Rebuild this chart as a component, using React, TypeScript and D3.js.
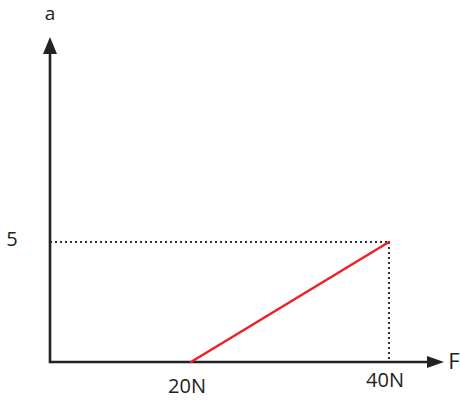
import React from "react";
import * as d3 from "d3";

// Acceleration a versus applied force F: zero until F = 20 N, then rising to a = 5 at F = 40 N
const forceValues: number[] = [20, 40];
const accelValues: number[] = [0, 5];
const xTickValues: number[] = [20, 40];
const xTickLabels: string[] = ["20N", "40N"];
const yTickValues: number[] = [5];
const yTickLabels: string[] = ["5"];

const W = 460;
const H = 400;
const originX = 50;
const originY = 362;
const xEnd = 444;
const yEnd = 37;

const x = d3.scaleLinear().domain([20, 40]).range([191, 389]);
const y = d3.scaleLinear().domain([0, 5]).range([originY, 242]);

const FONT = "'Open Sans', 'DejaVu Sans', sans-serif";

export default function App() {
  const points: [number, number][] = forceValues.map((f, i) => [f, accelValues[i]]);
  const line = d3
    .line<[number, number]>()
    .x((d) => x(d[0]))
    .y((d) => y(d[1]));

  const last = points[points.length - 1];

  return (
    <svg
      width={W}
      height={H}
      style={{ position: "absolute", left: 0, top: 0, background: "#fff" }}
    >
      {/* dotted guides to the end point */}
      <line
        x1={originX}
        x2={x(last[0])}
        y1={y(last[1])}
        y2={y(last[1])}
        stroke="#333"
        strokeWidth={2}
        strokeDasharray="2,3"
      />
      <line
        x1={x(last[0])}
        x2={x(last[0])}
        y1={y(last[1])}
        y2={originY}
        stroke="#333"
        strokeWidth={2}
        strokeDasharray="2,3"
      />

      {/* axes */}
      <line x1={originX} x2={xEnd - 14} y1={originY} y2={originY} stroke="#222" strokeWidth={2.6} />
      <line x1={originX} x2={originX} y1={originY + 1.3} y2={yEnd + 14} stroke="#222" strokeWidth={2.6} />
      <path
        d={`M${xEnd},${originY} L${xEnd - 17},${originY - 6} L${xEnd - 17},${originY + 6} Z`}
        fill="#222"
      />
      <path
        d={`M${originX},${yEnd} L${originX - 7},${yEnd + 17} L${originX + 7},${yEnd + 17} Z`}
        fill="#222"
      />

      {/* data line */}
      <path
        d={line(points) ?? ""}
        fill="none"
        stroke="#ee2128"
        strokeWidth={2.6}
        strokeLinecap="round"
      />

      {/* tick labels */}
      {xTickValues.map((v, i) => (
        <text
          key={`xt${i}`}
          x={x(v) - 4}
          y={i === 0 ? 385 : 379}
          textAnchor="middle"
          dominantBaseline="central"
          fontFamily={FONT}
          fontSize={20}
          fill="#222"
        >
          {xTickLabels[i]}
        </text>
      ))}
      {yTickValues.map((v, i) => (
        <text
          key={`yt${i}`}
          x={12}
          y={y(v) - 4}
          textAnchor="middle"
          dominantBaseline="central"
          fontFamily={FONT}
          fontSize={20}
          fill="#222"
        >
          {yTickLabels[i]}
        </text>
      ))}

      {/* axis names */}
      <text
        x={originX}
        y={20}
        textAnchor="middle"
        fontFamily={FONT}
        fontSize={19}
        fill="#222"
      >
        a
      </text>
      <text
        x={454}
        y={360}
        textAnchor="middle"
        dominantBaseline="central"
        fontFamily={FONT}
        fontSize={22}
        fill="#222"
      >
        F
      </text>
    </svg>
  );
}
